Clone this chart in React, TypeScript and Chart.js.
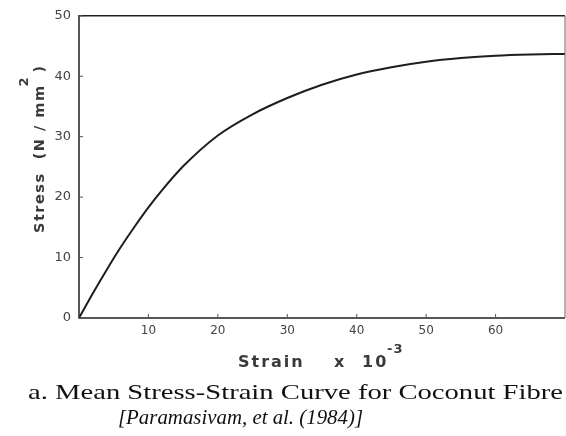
import React, { useEffect, useRef } from "react";
import { Chart, registerables } from "chart.js";

Chart.register(...registerables);

const strain = [0, 2, 4, 6, 8, 10, 12, 15, 20, 25, 30, 35, 40, 45, 50, 55, 60, 65, 70];
const stress = [0, 4.1, 8.0, 11.7, 15.1, 18.3, 21.2, 25.1, 30.2, 33.7, 36.4, 38.6, 40.3, 41.5, 42.4, 43.0, 43.4, 43.6, 43.7];
const xTickValues = [10, 20, 30, 40, 50, 60];
const yTickValues = [0, 10, 20, 30, 40, 50];
const yTitle = "Stress  (N / mm";
const yTitleSup = "2";
const yTitleEnd = ")";
const xTitleParts = ["Strain", "x", "10"];
const xTitleSup = "-3";
const caption1 = "a. Mean Stress-Strain Curve for Coconut Fibre";
const caption2 = "[Paramasivam, et al. (1984)]";

const AXIS_FONT = "'DejaVu Sans', sans-serif";

const decor = {
  id: "decor",
  afterDraw(chart: any) {
    const ctx = chart.ctx;
    const a = chart.chartArea;
    const xs = chart.scales.x;
    const ys = chart.scales.y;
    ctx.save();
    // frame
    ctx.lineWidth = 1.5;
    ctx.strokeStyle = "#222";
    ctx.beginPath();
    ctx.moveTo(a.right, a.top);
    ctx.lineTo(a.left, a.top);
    ctx.lineTo(a.left, a.bottom);
    ctx.lineTo(a.right, a.bottom);
    ctx.stroke();
    ctx.strokeStyle = "#666";
    ctx.lineWidth = 1;
    ctx.beginPath();
    ctx.moveTo(a.right, a.top);
    ctx.lineTo(a.right, a.bottom);
    ctx.stroke();
    // inward ticks
    ctx.lineWidth = 1;
    ctx.strokeStyle = "#555";
    for (const v of xTickValues) {
      const px = xs.getPixelForValue(v);
      ctx.beginPath();
      ctx.moveTo(px, a.bottom);
      ctx.lineTo(px, a.bottom - 4);
      ctx.stroke();
    }
    for (const v of yTickValues) {
      const py = ys.getPixelForValue(v);
      ctx.beginPath();
      ctx.moveTo(a.left, py);
      ctx.lineTo(a.left + 4, py);
      ctx.stroke();
    }
    // x title
    ctx.fillStyle = "#3a3a3a";
    ctx.textBaseline = "alphabetic";
    ctx.textAlign = "left";
    (ctx as any).letterSpacing = "2px";
    ctx.font = "bold 16px " + AXIS_FONT;
    const xPos = [238, 334, 362];
    xTitleParts.forEach((t, i) => ctx.fillText(t, xPos[i], 367));
    ctx.font = "bold 13px " + AXIS_FONT;
    (ctx as any).letterSpacing = "1px";
    ctx.fillText(xTitleSup, 387, 353);
    // y title rotated
    ctx.save();
    ctx.translate(44, 233);
    ctx.rotate(-Math.PI / 2);
    (ctx as any).letterSpacing = "1.5px";
    ctx.font = "bold 14.5px " + AXIS_FONT;
    ctx.fillText(yTitle, 0, 0);
    const wy = ctx.measureText(yTitle).width;
    ctx.font = "bold 13px " + AXIS_FONT;
    ctx.fillText(yTitleSup, wy - 2, -16);
    ctx.font = "bold 14.5px " + AXIS_FONT;
    ctx.fillText(yTitleEnd, wy + 12, 0);
    ctx.restore();
    (ctx as any).letterSpacing = "0px";
    // captions
    ctx.fillStyle = "#111";
    ctx.textAlign = "left";
    ctx.font = "22px 'Liberation Serif', serif";
    const w1 = ctx.measureText(caption1).width;
    const target1 = 535;
    ctx.save();
    ctx.translate(28, 399);
    ctx.scale(target1 / w1, 1);
    ctx.fillText(caption1, 0, 0);
    ctx.restore();
    ctx.font = "italic 21px 'Liberation Serif', serif";
    const w2 = ctx.measureText(caption2).width;
    ctx.save();
    ctx.translate(118, 424);
    ctx.scale(245 / w2, 1);
    ctx.fillText(caption2, 0, 0);
    ctx.restore();
    ctx.restore();
  },
};

export default function App() {
  const ref = useRef<HTMLCanvasElement>(null);
  useEffect(() => {
    if (!ref.current) return;
    const chart = new Chart(ref.current, {
      type: "line",
      data: {
        datasets: [
          {
            data: strain.map((x, i) => ({ x, y: stress[i] })),
            borderColor: "#1e1e1e",
            borderWidth: 2,
            pointRadius: 0,
            cubicInterpolationMode: "monotone",
            fill: false,
          },
        ],
      },
      options: {
        animation: false,
        responsive: false,
        maintainAspectRatio: false,
        layout: { padding: { top: 13, right: 1, bottom: 0, left: 0 } },
        plugins: { legend: { display: false }, tooltip: { enabled: false } },
        scales: {
          x: {
            type: "linear",
            min: 0,
            max: 70,
            grid: { display: false, drawTicks: false },
            border: { display: false },
            afterBuildTicks: (s: any) => {
              s.ticks = xTickValues.map((v) => ({ value: v }));
            },
            afterFit: (s: any) => {
              s.height = 118;
            },
            ticks: {
              padding: 6,
              color: "#444",
              font: { family: AXIS_FONT, size: 12 },
              maxRotation: 0,
            },
          },
          y: {
            min: 0,
            max: 50,
            grid: { display: false, drawTicks: false },
            border: { display: false },
            afterBuildTicks: (s: any) => {
              s.ticks = yTickValues.map((v) => ({ value: v }));
            },
            afterFit: (s: any) => {
              s.width = 79;
            },
            ticks: {
              padding: 8,
              color: "#444",
              font: { family: AXIS_FONT, size: 13 },
            },
          },
        },
      },
      plugins: [decor],
    } as any);
    return () => chart.destroy();
  }, []);
  return (
    <div style={{ position: "absolute", left: 0, top: 0, width: 566, height: 436, background: "#fff" }}>
      <canvas ref={ref} width={566} height={436} style={{ width: 566, height: 436 }} />
    </div>
  );
}
